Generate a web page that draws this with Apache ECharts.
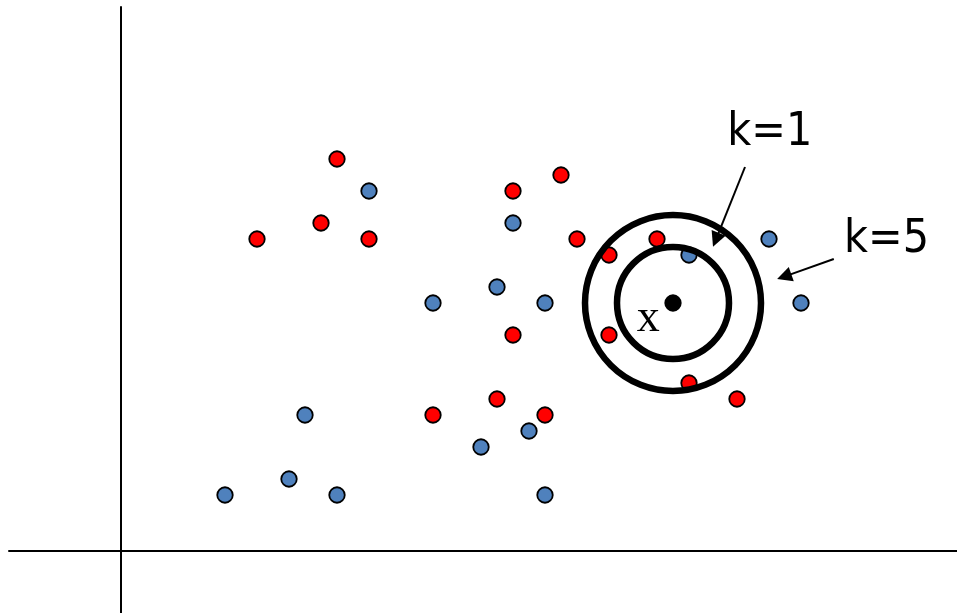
<!DOCTYPE html>
<html><head><meta charset="utf-8">
<script src="https://cdn.jsdelivr.net/npm/echarts@6/dist/echarts.min.js"></script>
<style>html,body{margin:0;padding:0;background:#fff}#c{width:957px;height:613px}</style>
</head><body><div id="c"></div>
<script>
// data (units: lattice coordinates, axes cross at 0,0)
const redPoints = [[27,49],[55,47],[49,45],[25,41],[17,39],[31,39],[57,39],[67,39],[61,37],[49,27],[61,27],[47,19],[39,17],[53,17],[71,21],[77,19]];
const bluePoints = [[31,45],[49,41],[81,39],[71,37],[47,33],[39,31],[53,31],[85,31],[23,17],[51,15],[45,13],[21,9],[13,7],[27,7],[53,7]];
const queryPoint = [69,31];
const neighbourRadii = [7, 11];           // k=1 circle, k=5 circle
const labelTexts = ['k=1','k=5','x'];
const labelCoords = [[81.1,52.2],[95.7,38.9],[65.9,29]];
const arrowFrom = [[78,48],[89.1,36.5]];
const arrowTo = [[74.35,38.9],[82.9,34.3]];

const chart = echarts.init(document.getElementById('c'));
const dotStyle = (c)=>({color:c,borderColor:'#000',borderWidth:1.8,opacity:1});
function build(unitPx){
  return {
    animation:false,
    backgroundColor:'#fff',
    grid:{left:9,right:0,top:7,bottom:0},
    xAxis:{type:'value',min:-14,max:104.5,splitLine:{show:false},axisTick:{show:false},axisLabel:{show:false},
      axisLine:{show:true,onZero:true,lineStyle:{color:'#000',width:2}}},
    yAxis:{type:'value',min:-7.75,max:68,splitLine:{show:false},axisTick:{show:false},axisLabel:{show:false},
      axisLine:{show:true,onZero:true,lineStyle:{color:'#000',width:2}}},
    series:[
      {type:'scatter',data:redPoints,symbolSize:15.5,itemStyle:dotStyle('#FF0000'),z:2,emphasis:{disabled:true}},
      {type:'scatter',data:bluePoints,symbolSize:15.5,itemStyle:dotStyle('#4F81BD'),z:2,emphasis:{disabled:true}},
      {type:'scatter',data:[queryPoint],symbolSize:15.5,itemStyle:dotStyle('#000'),z:3,emphasis:{disabled:true}},
      {type:'scatter',data:neighbourRadii.map(r=>({value:queryPoint,symbolSize:2*r*unitPx})),
        itemStyle:{color:'rgba(0,0,0,0)',borderColor:'#000',borderWidth:6.5,opacity:1},z:4,silent:true},
      {type:'lines',coordinateSystem:'cartesian2d',z:5,
        data:arrowFrom.map((f,i)=>({coords:[f,arrowTo[i]]})),
        symbol:['none','triangle'],symbolSize:15,
        lineStyle:{color:'#000',width:2,opacity:1}},
      {type:'scatter',symbolSize:0,z:6,itemStyle:{opacity:1},
        data:labelCoords.map((c,i)=>({value:c,name:labelTexts[i],
          label:{show:true,position:'inside',formatter:labelTexts[i],color:'#000',opacity:1,
            fontFamily: labelTexts[i]==='x' ? 'Liberation Serif' : "'DejaVu Sans Condensed','DejaVu Sans'",
            fontSize: 46, align:'center',verticalAlign:'middle'}}))}
    ]
  };
}
chart.setOption(build(8));
const p0 = chart.convertToPixel({gridIndex:0},[0,0]);
const p1 = chart.convertToPixel({gridIndex:0},[1,0]);
chart.setOption(build(p1[0]-p0[0]));
</script></body></html>
